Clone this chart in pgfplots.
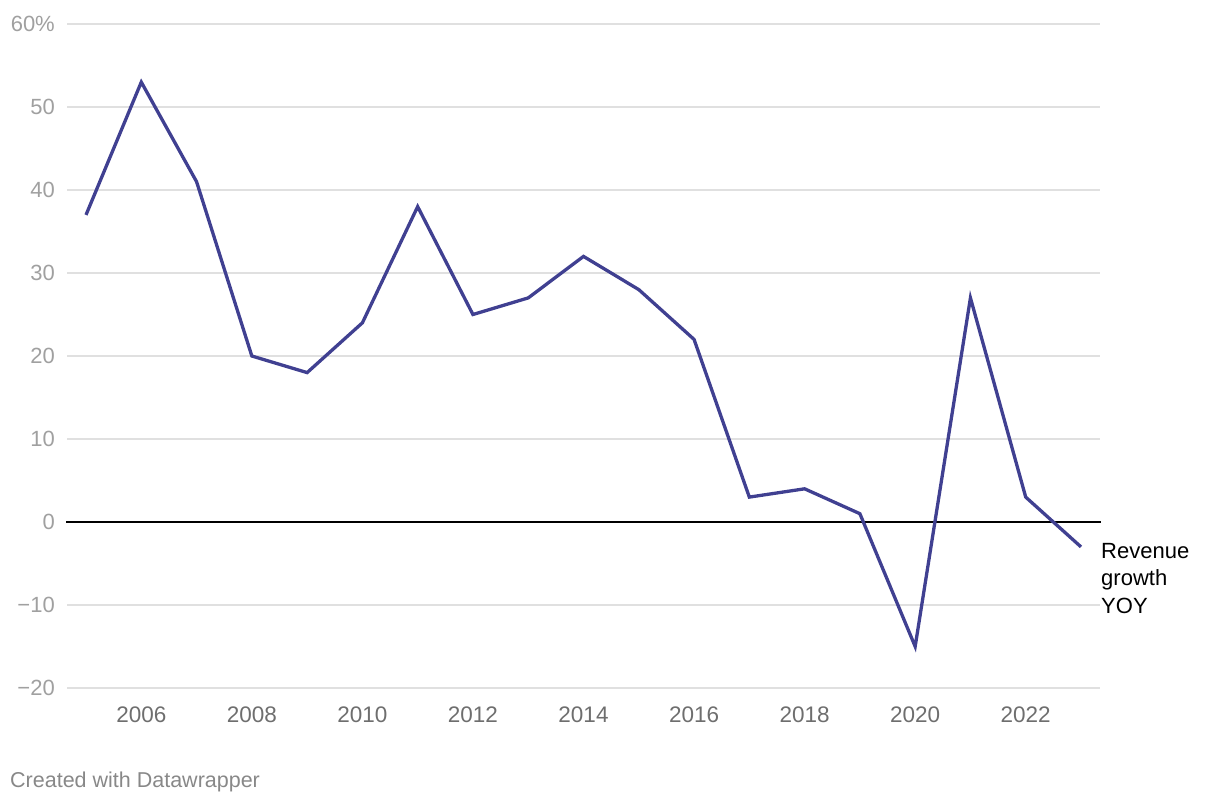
\documentclass[border=0pt]{standalone}
\usepackage{pgfplots}
\pgfplotsset{compat=1.18}
\usepackage{fontspec}
\setmainfont{Liberation Sans}
\definecolor{linec}{RGB}{64,64,145}
\definecolor{gridc}{RGB}{224,224,224}
\definecolor{ylab}{RGB}{160,160,160}
\definecolor{xlab}{RGB}{110,110,110}
\definecolor{foot}{RGB}{136,136,136}
\begin{document}
\begin{tikzpicture}
\path (0,0) rectangle (1220pt,804pt);
\begin{axis}[
  at={(67pt,116pt)}, anchor=south west,
  scale only axis, width=1033pt, height=664pt,
  xmin=2004.656, xmax=2023.344, ymin=-20, ymax=60,
  axis line style={draw=none},
  major tick length=0pt, tick style={draw=none},
  ymajorgrids, grid style={gridc, line width=1.3pt},
  ytick={-20,-10,0,10,20,30,40,50,60},
  yticklabels={−20,−10,0,10,20,30,40,50,60\%},
  xtick={2006,2008,...,2022},
  xticklabels={2006,2008,2010,2012,2014,2016,2018,2020,2022},
  yticklabel style={anchor=east, inner sep=0pt, xshift=-12pt, text=ylab, font=\fontsize{22}{26}\selectfont},
  xticklabel style={anchor=base, inner sep=0pt, yshift=-34pt, text=xlab, font=\fontsize{22.5}{26}\selectfont},
  clip=false,
]
\addplot[black, line width=1.5pt, forget plot] coordinates {(2004.64,0) (2023.36,0)};
\addplot[linec, line width=3.3pt, mark=none] coordinates {
(2005,37) (2006,53) (2007,41) (2008,20) (2009,18) (2010,24) (2011,38) (2012,25) (2013,27) (2014,32) (2015,28) (2016,22) (2017,3) (2018,4) (2019,1) (2020,-15) (2021,27) (2022,3) (2023,-3)};
\end{axis}
\node[anchor=north west, inner sep=0pt, align=left, font=\fontsize{22}{27.5}\selectfont] at (1101pt,261pt) {Revenue\\growth\\YOY};
\node[anchor=west, inner sep=0pt, text=foot, font=\fontsize{21.5}{25}\selectfont] at (10pt,22pt) {Created with Datawrapper};
\end{tikzpicture}
\end{document}
